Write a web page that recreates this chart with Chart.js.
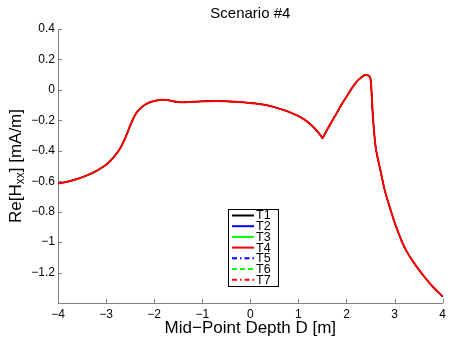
<!DOCTYPE html>
<html><head><meta charset="utf-8">
<script src="https://cdn.jsdelivr.net/npm/chart.js@4/dist/chart.umd.min.js"></script>
<style>html,body{margin:0;padding:0;background:#fff}</style>
</head><body>
<canvas id="c" width="450" height="338" style="width:450px;height:338px;display:block"></canvas>
<script>
// ---- data ----
const depth = [-4.0,-3.8,-3.6,-3.4,-3.2,-3.0,-2.9,-2.8,-2.7,-2.6,-2.5,-2.4,-2.3,-2.2,-2.1,-2.0,-1.9,-1.8,-1.7,-1.6,-1.5,-1.4,-1.3,-1.1,-0.9,-0.7,-0.5,-0.3,-0.1,0.1,0.3,0.5,0.7,0.9,1.0,1.1,1.2,1.3,1.4,1.47,1.5,1.53,1.6,1.7,1.8,1.9,2.0,2.1,2.2,2.3,2.4,2.45,2.5,2.55,2.6,2.65,2.7,2.8,2.9,3.0,3.2,3.4,3.6,3.8,4.0];
const reHxx = [-0.615,-0.603,-0.585,-0.562,-0.532,-0.492,-0.462,-0.426,-0.380,-0.315,-0.236,-0.167,-0.125,-0.099,-0.083,-0.073,-0.067,-0.064,-0.068,-0.075,-0.080,-0.082,-0.080,-0.077,-0.074,-0.073,-0.075,-0.078,-0.083,-0.089,-0.098,-0.113,-0.133,-0.158,-0.172,-0.190,-0.212,-0.240,-0.275,-0.303,-0.317,-0.300,-0.260,-0.205,-0.150,-0.095,-0.045,0.005,0.050,0.080,0.098,0.095,0.072,-0.180,-0.360,-0.450,-0.520,-0.665,-0.770,-0.870,-1.030,-1.135,-1.220,-1.295,-1.357];
const seriesNames = ['T1','T2','T3','T4','T5','T6','T7'];
const seriesColors = ['#000000','#0000ff','#00ff00','#ff0000','#0000ff','#00ff00','#ff0000'];
const seriesDash = [[],[],[],[],[5,3,1.5,3],[5,3],[5,3,1.5,3]];
const xTicks = [-4,-3,-2,-1,0,1,2,3,4];
const yTicks = [-1.2,-1,-0.8,-0.6,-0.4,-0.2,0,0.2,0.4];
const titleText = 'Scenario #4';
const xLabel = 'Mid\u2212Point Depth D [m]';
const yLabelParts = ['Re[H','xx','] [mA/m]'];

const FONT = '"Liberation Sans", Arial, Helvetica, sans-serif';
const fmt = v => { const s = String(Math.round(v*10)/10); return s.replace('-', '\u2212'); };

const points = depth.map((x,i)=>({x, y: reHxx[i]}));
const datasets = seriesNames.map((n,i)=>({
  label: n, data: points, borderColor: seriesColors[i], borderWidth: i === 3 ? 2 : 1.2,
  borderDash: seriesDash[i], pointRadius: 0, cubicInterpolationMode: 'monotone', fill: false,
  order: i === 3 ? 0 : 1
}));

const decor = {
  id: 'decor',
  afterDraw(chart) {
    const ctx = chart.ctx, xs = chart.scales.x, ys = chart.scales.y, ca = chart.chartArea;
    ctx.save();
    // inward ticks
    ctx.strokeStyle = '#808080'; ctx.lineWidth = 1;
    ctx.beginPath();
    xs.ticks.forEach(t => { const p = Math.round(xs.getPixelForValue(t.value)) + 0.5; ctx.moveTo(p, ca.bottom); ctx.lineTo(p, ca.bottom - 4); });
    ys.ticks.forEach(t => { const p = Math.round(ys.getPixelForValue(t.value)) + 0.5; ctx.moveTo(ca.left, p); ctx.lineTo(ca.left + 4, p); });
    ctx.stroke();
    // title
    ctx.fillStyle = '#000';
    ctx.textAlign = 'center'; ctx.textBaseline = 'middle';
    ctx.font = '15px ' + FONT;
    ctx.fillText(titleText, (ca.left + ca.right) / 2, 14);
    // x label
    ctx.font = '17px ' + FONT;
    ctx.fillText(xLabel, (ca.left + ca.right) / 2, 328);
    // y label with subscript
    ctx.save();
    ctx.translate(16, (ca.top + ca.bottom) / 2);
    ctx.rotate(-Math.PI / 2);
    ctx.textAlign = 'left'; ctx.textBaseline = 'middle';
    const big = '17px ' + FONT, small = '12px ' + FONT;
    ctx.font = big; const w0 = ctx.measureText(yLabelParts[0]).width;
    ctx.font = small; const w1 = ctx.measureText(yLabelParts[1]).width;
    ctx.font = big; const w2 = ctx.measureText(yLabelParts[2]).width;
    let x0 = -(w0 + w1 + w2) / 2;
    ctx.font = big; ctx.fillText(yLabelParts[0], x0, 0); x0 += w0;
    ctx.font = small; ctx.fillText(yLabelParts[1], x0, 5); x0 += w1;
    ctx.font = big; ctx.fillText(yLabelParts[2], x0, 0);
    ctx.restore();
    // legend
    const lx = 228.5, ly = 209.5, lw = 50, lh = 77;
    ctx.fillStyle = '#fff'; ctx.fillRect(lx, ly, lw, lh);
    ctx.strokeStyle = '#000'; ctx.lineWidth = 1; ctx.setLineDash([]);
    ctx.strokeRect(lx, ly, lw, lh);
    ctx.font = '12.5px ' + FONT; ctx.textAlign = 'left'; ctx.textBaseline = 'middle';
    seriesNames.forEach((n, i) => {
      const yy = 215.5 + i * 10.7;
      ctx.strokeStyle = seriesColors[i]; ctx.lineWidth = 2; ctx.setLineDash(seriesDash[i]);
      ctx.beginPath(); ctx.moveTo(232, yy); ctx.lineTo(254, yy); ctx.stroke();
      ctx.setLineDash([]);
      ctx.fillStyle = '#000'; ctx.fillText(n, 256, yy + 0.5);
    });
    ctx.restore();
  }
};

new Chart(document.getElementById('c'), {
  type: 'line',
  data: { datasets },
  options: {
    responsive: false, animation: false, devicePixelRatio: 1,
    layout: { padding: { left: 0, top: 29, right: 6, bottom: 0 } },
    plugins: { legend: { display: false }, title: { display: false }, tooltip: { enabled: false } },
    scales: {
      x: {
        type: 'linear', min: -4, max: 4,
        afterBuildTicks: s => { s.ticks = xTicks.map(v => ({ value: v })); },
        afterFit: s => { s.height = 35; },
        grid: { display: true, drawOnChartArea: false, drawTicks: false },
        border: { display: true, color: '#808080', width: 1 },
        ticks: { color: '#000', padding: 4, font: { family: FONT, size: 12 }, maxRotation: 0, autoSkip: false, callback: v => fmt(v) }
      },
      y: {
        type: 'linear', min: -1.4, max: 0.4,
        afterBuildTicks: s => { s.ticks = yTicks.map(v => ({ value: v })); },
        afterFit: s => { s.width = 58; },
        grid: { display: true, drawOnChartArea: false, drawTicks: false },
        border: { display: true, color: '#808080', width: 1 },
        ticks: { color: '#000', padding: 3, font: { family: FONT, size: 12 }, autoSkip: false, callback: v => fmt(v) }
      }
    }
  },
  plugins: [decor]
});
</script>
</body></html>
